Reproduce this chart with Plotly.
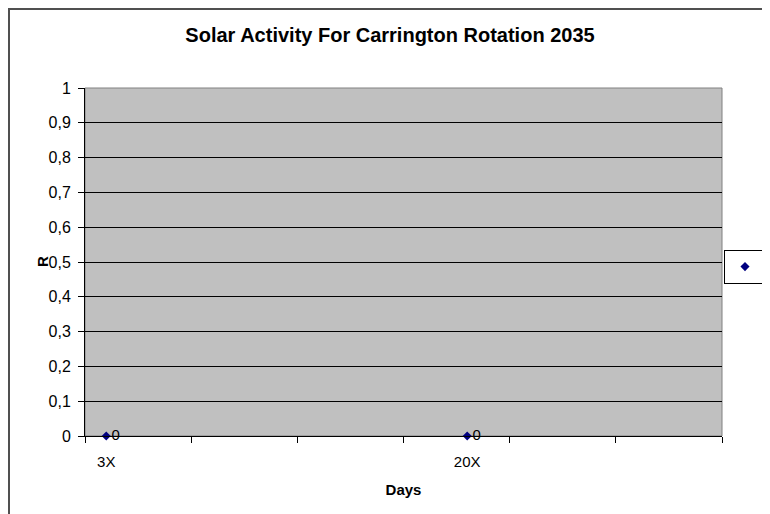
import plotly.graph_objects as go

# Data
day_labels = ["3X", "20X"]
day_pos = [3, 20]
r_values = [0, 0]
point_labels = ["0", "0"]

FONT = "Arial, Liberation Sans, sans-serif"

# The page body adds an 8px offset; figure size and coordinates compensate for it.
W, H = 762, 506
L, T, R_, B = 77, 80, 48, 78
PW, PH = W - L - R_, H - T - B

fig = go.Figure()
fig.add_trace(go.Scatter(
    x=day_pos, y=r_values, name="R",
    mode="markers+text",
    text=point_labels, textposition="middle right",
    textfont=dict(family=FONT, size=15, color="black"),
    marker=dict(symbol="diamond", size=7, color="#000080"),
    cliponaxis=False,
))

fig.update_layout(
    width=W, height=H,
    separators=",.",
    paper_bgcolor="white",
    plot_bgcolor="#c0c0c0",
    margin=dict(l=L, r=R_, t=T, b=B, autoexpand=False),
    font=dict(family=FONT, size=14, color="black"),
    title=dict(text="<b>Solar Activity For Carrington Rotation 2035</b>",
               x=382 / W, xanchor="center", y=1 - 27 / H, yanchor="middle",
               font=dict(family=FONT, size=20, color="black")),
    showlegend=True,
    legend=dict(x=(716 - L) / PW, xanchor="left", y=(428 - 259) / PH, yanchor="middle",
                bordercolor="black", borderwidth=1, bgcolor="white",
                font=dict(family=FONT, size=14), itemwidth=30),
    xaxis=dict(
        range=[2, 32], tickvals=day_pos, ticktext=day_labels,
        ticks="", showgrid=False, zeroline=False,
        showline=True, linecolor="black", linewidth=1,
        tickfont=dict(family=FONT, size=15),
        ticklabelstandoff=12,
        title=dict(text="<b>Days</b>", font=dict(family=FONT, size=15), standoff=15),
        minor=dict(tick0=2, dtick=5, ticks="outside", ticklen=6,
                   tickcolor="black", tickwidth=1, showgrid=False),
    ),
    yaxis=dict(
        range=[0, 1], dtick=0.1, tick0=0,
        ticks="outside", ticklen=6, tickcolor="black",
        showgrid=True, gridcolor="black", gridwidth=1,
        zeroline=False, showline=True, linecolor="black", linewidth=1,
        tickfont=dict(family=FONT, size=16),
        ticklabelstandoff=4,
    ),
    annotations=[
        dict(text="<b>R</b>", xref="paper", yref="paper",
             x=(34 - L) / PW, y=0.5, xanchor="center", yanchor="middle",
             textangle=-90, showarrow=False, font=dict(family=FONT, size=15)),
    ],
    shapes=[
        dict(type="rect", xref="paper", yref="paper", x0=0, x1=1, y0=0, y1=1,
             line=dict(color="#808080", width=1), layer="below"),
        dict(type="rect", xref="paper", yref="paper",
             x0=(1 - L) / PW, x1=(900 - L) / PW,
             y0=(428 - 600) / PH, y1=(428 - 1) / PH,
             line=dict(color="#505050", width=2), layer="above"),
    ],
)

fig.write_html("out.html")
